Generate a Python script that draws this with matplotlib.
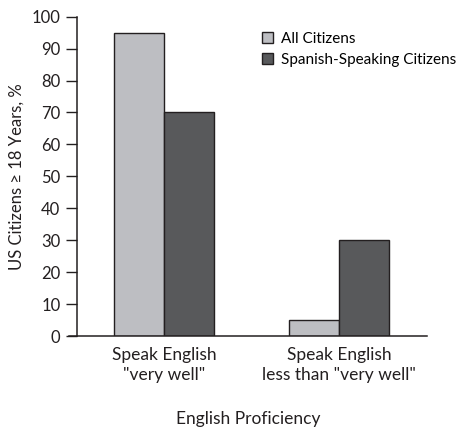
import matplotlib
matplotlib.use("Agg")
import matplotlib.pyplot as plt
import numpy as np

# --- dados ---
categorias = ['Speak English\n"very well"', 'Speak English\nless than "very well"']
series = ["All Citizens", "Spanish-Speaking Citizens"]
todos = [95, 5]
hispanicos = [70, 30]
cores = ["#bdbec2", "#58595b"]

plt.rcParams["font.family"] = ["Lato", "DejaVu Sans"]
plt.rcParams["font.size"] = 12

fig = plt.figure(figsize=(4.62, 4.30), dpi=100)
ax = fig.add_axes([0.1494, 0.2186, 0.7749, 0.7426])

x = np.arange(len(categorias))
w = 0.2857
ax.bar(x - w / 2, todos, w, color=cores[0], edgecolor="#231f20", linewidth=1.0, label=series[0])
ax.bar(x + w / 2, hispanicos, w, color=cores[1], edgecolor="#231f20", linewidth=1.0, label=series[1])

ax.set_xlim(-0.543, 1.503)
ax.set_ylim(0, 100)
ax.set_yticks(range(0, 101, 10))
ax.set_xticks(x)
ax.set_xticklabels(categorias, linespacing=1.3)
ax.tick_params(axis="x", length=0, pad=8, labelsize=12.5, colors="#231f20")
ax.tick_params(axis="y", length=8, width=1.0, pad=4, labelsize=12, colors="#231f20")

for s in ["top", "right"]:
    ax.spines[s].set_visible(False)
ax.spines["left"].set_position(("data", -0.497))
for s in ["left", "bottom"]:
    ax.spines[s].set_color("#231f20")
    ax.spines[s].set_linewidth(1.1)

ax.set_ylabel("US Citizens \u2265 18 Years, %", fontsize=12, color="#231f20", labelpad=5)
ax.set_xlabel("English Proficiency", fontsize=12.5, color="#231f20", labelpad=20)

fig.legend(loc="upper left", bbox_to_anchor=(0.567, 0.925), frameon=False,
           handlelength=0.72, handleheight=0.72, handletextpad=0.5,
           labelspacing=0.45, borderpad=0, borderaxespad=0, fontsize=11)

fig.savefig("out.png", dpi=100)
